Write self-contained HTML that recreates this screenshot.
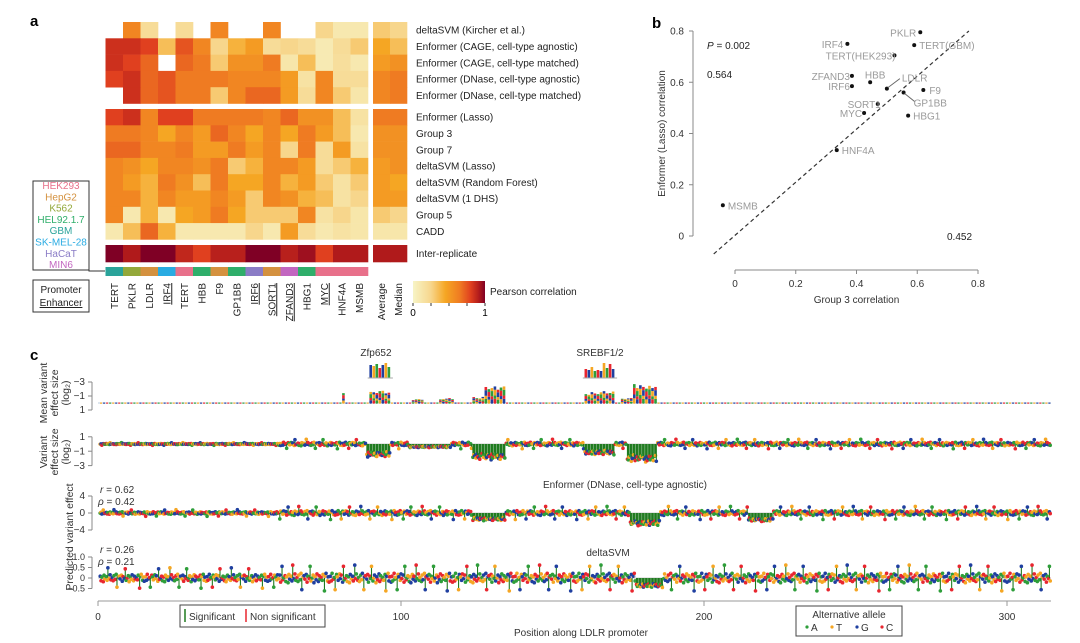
<!DOCTYPE html>
<html><head><meta charset="utf-8">
<style>
html,body{margin:0;padding:0;background:#fff;}
svg{display:block;font-family:"Liberation Sans",sans-serif;}
</style></head>
<body>
<svg id="fig" width="1080" height="643" viewBox="0 0 1080 643" xmlns="http://www.w3.org/2000/svg">
<g id="pa"></g>
<g id="pb"></g>
<g id="pc"></g>
</svg>
<script>
// ---------- DATA: panel a ----------
const genes = ["TERT","PKLR","LDLR","IRF4","TERT","HBB","F9","GP1BB","IRF6","SORT1","ZFAND3","HBG1","MYC","HNF4A","MSMB"];
const underlined = [false,false,false,true,false,false,false,false,true,true,true,false,true,false,false];
const summaryCols = ["Average","Median"];
const rowLabels = ["deltaSVM (Kircher et al.)","Enformer (CAGE, cell-type agnostic)","Enformer (CAGE, cell-type matched)","Enformer (DNase, cell-type agnostic)","Enformer (DNase, cell-type matched)","Enformer (Lasso)","Group 3","Group 7","deltaSVM (Lasso)","deltaSVM (Random Forest)","deltaSVM (1 DHS)","Group 5","CADD","Inter-replicate"];
const hm0 = [null,0.6,0.2,null,0.2,null,0.6,null,null,0.6,null,null,0.25,0.1,0.1,0.3,0.25];
const hm1 = [0.85,0.85,0.8,0.35,0.75,0.6,0.25,0.4,0.5,0.2,0.25,0.2,0.08,0.2,0.3,0.45,0.35];
const hm2 = [0.85,0.8,0.7,null,0.7,0.65,0.3,0.55,0.55,0.65,0.12,0.35,0.08,0.18,0.1,0.5,0.55];
const hm3 = [0.8,0.85,0.7,0.75,0.65,0.65,0.65,0.6,0.6,0.6,0.5,0.15,0.6,0.2,0.2,0.6,0.65];
const hm4 = [null,0.85,0.7,0.75,0.65,0.65,0.3,0.6,0.7,0.7,0.5,0.2,0.6,0.3,0.12,0.6,0.65];
const hm5 = [0.8,0.85,0.6,0.8,0.8,0.65,0.65,0.65,0.65,0.6,0.7,0.55,0.55,0.35,0.15,0.65,0.65];
const hm6 = [0.65,0.65,0.6,0.45,0.6,0.5,0.7,0.6,0.45,0.6,0.45,0.65,0.5,0.35,0.1,0.55,0.55];
const hm7 = [0.7,0.7,0.6,0.6,0.65,0.5,0.5,0.65,0.5,0.6,0.25,0.65,0.2,0.5,0.15,0.55,0.55];
const hm8 = [0.6,0.55,0.45,0.6,0.6,0.55,0.65,0.3,0.4,0.6,0.6,0.5,0.2,0.3,0.4,0.5,0.55];
const hm9 = [0.6,0.5,0.4,0.65,0.55,0.35,0.65,0.45,0.45,0.6,0.4,0.5,0.3,0.15,0.3,0.5,0.45];
const hm10 = [0.6,0.6,0.4,0.6,0.5,0.5,0.6,0.5,0.3,0.6,0.55,0.4,0.35,0.15,0.25,0.5,0.5];
const hm11 = [0.6,0.1,0.4,0.1,0.45,0.5,0.65,0.45,0.3,0.3,0.3,0.6,0.15,0.25,0.12,0.3,0.25];
const hm12 = [0.1,0.35,0.7,0.4,0.1,0.1,0.1,0.1,0.25,0.1,0.5,0.2,0.1,0.15,0.12,0.12,0.12];
const hm13 = [1,0.92,1,1,0.88,0.8,0.9,0.9,1,1,0.9,0.95,0.8,0.92,0.92,0.92,0.92];
const cellLines = ["GBM","K562","HepG2","SK-MEL-28","HEK293","HEL92.1.7","HepG2","HEL92.1.7","HaCaT","HepG2","MIN6","HEL92.1.7","HEK293","HEK293","HEK293"];
const legendLines = ["HEK293","HepG2","K562","HEL92.1.7","GBM","SK-MEL-28","HaCaT","MIN6"];
// ---------- DATA: panel b ----------
const bGenes = ["PKLR","IRF4","TERT(GBM)","TERT(HEK293)","ZFAND3","HBB","IRF6","LDLR","F9","GP1BB","SORT1","MYC","HBG1","HNF4A","MSMB"];
const bGroup3 = [0.61,0.37,0.59,0.525,0.385,0.445,0.385,0.50,0.62,0.555,0.47,0.425,0.57,0.335,-0.04];
const bLasso = [0.795,0.75,0.745,0.705,0.625,0.6,0.585,0.575,0.57,0.56,0.515,0.48,0.47,0.335,0.12];
const bTicks = [0,0.2,0.4,0.6,0.8];
// ---------- DATA: panel c ----------
const cTicks = [0,100,200,300];
const dips2 = [[89,96,-1.8],[103,116,-0.5],[124,134,-2.2],[161,170,-1.5],[175,184,-2.5]];
const dips3 = [[124,134,-1.8],[176,185,-3],[215,222,-2]];
const dips4 = [[178,186,-0.45]];
const logoBlocks = [[81,82,1.6],[90,97,1.8],[104,108,0.6],[113,118,0.7],[124,128,0.9],[128,135,2.6],[161,165,1.6],[165,171,1.8],[173,177,0.8],[177,185,2.7]];
const jitter = [0.3,-0.5,0.8,-0.2,0.1,-0.9,0.6,0.2,-0.4,0.7,-0.1,0.5,-0.7,0.9,-0.3,0.0,0.4,-0.6,0.2,-0.8,0.6,-0.2,0.3,-0.5,1.0,-0.1,0.7,-0.4,0.1,-0.6,0.5,-0.3,0.8,-0.9,0.2,0.4,-0.2,0.6,-0.7,0.3,-0.1,0.9,-0.5,0.0,0.5,-0.8,0.2,-0.3,0.7,-0.6,0.4,-0.2,0.1,-0.4,0.6,-1.0,0.3,0.8,-0.5,0.2,-0.7];

const NS="http://www.w3.org/2000/svg";
function mk(parent,tag,attrs,name,txt){const e=document.createElementNS(NS,tag);for(const k in attrs)e.setAttribute(k,attrs[k]);


if(txt!==undefined)e.textContent=txt;parent.appendChild(e);return e;}
const stops=[[0,[247,244,198]],[0.25,[247,214,140]],[0.45,[245,166,35]],[0.65,[239,123,34]],[0.8,[224,64,31]],[0.92,[176,26,27]],[1,[127,0,37]]];
function cmap(v){for(let i=1;i<stops.length;i++){if(v<=stops[i][0]){const a=stops[i-1],b=stops[i];const t=(v-a[0])/(b[0]-a[0]);return "rgb("+a[1].map((c,j)=>Math.round(c+(b[1][j]-c)*t)).join(",")+")";}}return "rgb(127,0,37)";}
const lineColor={"HEK293":"#e8708a","HepG2":"#d4913f","K562":"#93a83a","HEL92.1.7":"#2fae6a","GBM":"#2aa39a","SK-MEL-28":"#29abe2","HaCaT":"#8a7cc6","MIN6":"#c266c0"};

// ---------- PANEL A ----------
const pa=document.getElementById('pa');
mk(pa,'text',{x:30,y:26,'font-size':15,'font-weight':'bold'},'panel-a-letter','a');
const hmRows=[hm0,hm1,hm2,hm3,hm4,hm5,hm6,hm7,hm8,hm9,hm10,hm11,hm12,hm13];
const cw=17.5, x0=105.5, xs0=373, csw=17;
function rowY(r){ if(r<5) return 22+r*16.3; if(r<13) return 109+(r-5)*16.3; return 245; }
function colX(c){ return c<15? x0+c*cw : xs0+(c-15)*csw; }
hmRows.forEach((row,r)=>{
  const h = r===13?17:16.3;
  row.forEach((v,c)=>{
    if(v===null) return;
    mk(pa,'rect',{x:colX(c),y:rowY(r),width:(c<15?cw:csw)+0.3,height:h+0.3,fill:cmap(v)},'heatmap-cell');
  });
  mk(pa,'text',{x:416,y:rowY(r)+h/2+3.5,'font-size':10,fill:'#222'},'row-label',rowLabels[r]);
});
cellLines.forEach((cl,c)=>{
  mk(pa,'rect',{x:colX(c),y:267,width:cw+0.3,height:9,fill:lineColor[cl]},'cell-line-color');
});
genes.forEach((g,c)=>{
  const cx=colX(c)+cw/2+3.5;
  mk(pa,'text',{x:cx,y:283,'font-size':10,fill:'#222','text-anchor':'end',transform:`rotate(-90 ${cx} 283)`,'text-decoration':underlined[c]?'underline':'none'},'column-label',g);
});
summaryCols.forEach((g,i)=>{
  const cx=xs0+i*csw+csw/2+3.5;
  mk(pa,'text',{x:cx,y:283,'font-size':10,fill:'#222','text-anchor':'end',transform:`rotate(-90 ${cx} 283)`},'summary-label',g);
});
mk(pa,'rect',{x:33,y:181,width:56,height:89,fill:'none',stroke:'#333','stroke-width':1},'cell-line-legend-box');
mk(pa,'polyline',{points:'89,270 89,271 105,271',fill:'none',stroke:'#333','stroke-width':1},'legend-connector');
legendLines.forEach((l,i)=>{
  mk(pa,'text',{x:61,y:189+i*11.3,'font-size':10,'text-anchor':'middle',fill:lineColor[l]},'legend-entry',l);
});
mk(pa,'rect',{x:33,y:280,width:56,height:32,fill:'none',stroke:'#333','stroke-width':1},'promoter-enhancer-box');
mk(pa,'text',{x:61,y:293,'font-size':10,'text-anchor':'middle',fill:'#222'},'promoter-label','Promoter');
mk(pa,'text',{x:61,y:306,'font-size':10,'text-anchor':'middle',fill:'#222','text-decoration':'underline'},'enhancer-label','Enhancer');
const defs=mk(document.getElementById('fig'),'defs',{},'defs');
const lg=mk(defs,'linearGradient',{id:'cg',x1:0,x2:1,y1:0,y2:0},'colorbar-gradient');
for(let i=0;i<=20;i++) mk(lg,'stop',{offset:i/20,'stop-color':cmap(i/20)},'gradient-stop');
mk(pa,'rect',{x:413,y:281,width:72,height:22,fill:'url(#cg)'},'colorbar');
for(let i=0;i<=4;i++) mk(pa,'line',{x1:413+i*18,x2:413+i*18,y1:303,y2:306,stroke:'#333'},'colorbar-tick');
mk(pa,'text',{x:413,y:316,'font-size':10,'text-anchor':'middle'},'colorbar-min','0');
mk(pa,'text',{x:485,y:316,'font-size':10,'text-anchor':'middle'},'colorbar-max','1');
mk(pa,'text',{x:490,y:295,'font-size':10,fill:'#222'},'colorbar-title','Pearson correlation');

// ---------- PANEL B ----------
const pb=document.getElementById('pb');
mk(pb,'text',{x:652,y:28,'font-size':15,'font-weight':'bold'},'panel-b-letter','b');
const bx=v=>735+v*303.75, by=v=>236-v*256.25;
mk(pb,'line',{x1:693,x2:693,y1:by(0),y2:by(0.8),stroke:'#888'},'y-axis-line');
bTicks.forEach(t=>{
  mk(pb,'line',{x1:689,x2:693,y1:by(t),y2:by(t),stroke:'#888'},'y-tick');
  mk(pb,'text',{x:684,y:by(t)+3.5,'font-size':10,'text-anchor':'end',fill:'#333'},'y-tick-label',t===0?'0':t.toFixed(1));
  mk(pb,'line',{x1:bx(t),x2:bx(t),y1:270,y2:274,stroke:'#888'},'x-tick');
  mk(pb,'text',{x:bx(t),y:287,'font-size':10,'text-anchor':'middle',fill:'#333'},'x-tick-label',t===0?'0':t.toFixed(1));
});
mk(pb,'line',{x1:bx(0),x2:bx(0.8),y1:270,y2:270,stroke:'#888'},'x-axis-line');
mk(pb,'text',{x:bx(0.4),y:303,'font-size':10,'text-anchor':'middle',fill:'#333'},'x-axis-title','Group 3 correlation');
mk(pb,'text',{x:665,y:by(0.4),'font-size':10,'text-anchor':'middle',fill:'#333',transform:`rotate(-90 665 ${by(0.4)})`},'y-axis-title','Enformer (Lasso) correlation');
mk(pb,'line',{x1:bx(-0.07),y1:by(-0.07),x2:bx(0.77),y2:by(0.8),stroke:'#333','stroke-dasharray':'4,3','stroke-width':1.2},'identity-line');
const pv=mk(pb,'text',{x:707,y:49,'font-size':10,fill:'#222'},'p-value','');
pv.innerHTML='<tspan font-style="italic">P</tspan> = 0.002';
mk(pb,'text',{x:707,y:78,'font-size':10,fill:'#222'},'upper-count','0.564');
mk(pb,'text',{x:947,y:240,'font-size':10,fill:'#222'},'lower-count','0.452');
const labOff={"PKLR":[-4,4,'end'],"IRF4":[-4,4,'end'],"TERT(GBM)":[5,4,'start'],"TERT(HEK293)":[1,4,'end'],"ZFAND3":[-2,4,'end'],"HBB":[5,-4,'middle'],"IRF6":[-2,4,'end'],"LDLR":[15,-7,'start'],"F9":[6,4,'start'],"GP1BB":[10,14,'start'],"SORT1":[3,4,'end'],"MYC":[-2,4,'end'],"HBG1":[5,4,'start'],"HNF4A":[5,4,'start'],"MSMB":[5,4,'start']};
bGenes.forEach((g,i)=>{
  const x=bx(bGroup3[i]), y=by(bLasso[i]);
  mk(pb,'circle',{cx:x,cy:y,r:2,fill:'#111'},'point-'+g.toLowerCase());
  const o=labOff[g];
  if(g==="LDLR") mk(pb,'line',{x1:x+1,y1:y-1,x2:x+13,y2:y-10,stroke:'#666'},'leader-line');
  if(g==="GP1BB") mk(pb,'line',{x1:x+1,y1:y+1,x2:x+11,y2:y+9,stroke:'#666'},'leader-line');
  mk(pb,'text',{x:x+o[0],y:y+o[1],'font-size':10,fill:'#9a9a9a','text-anchor':o[2]},'point-label',g);
});

// ---------- PANEL C ----------
const pc=document.getElementById('pc');
mk(pc,'text',{x:30,y:360,'font-size':15,'font-weight':'bold'},'panel-c-letter','c');
const cx=p=>98+p*3.03;
const alleleCol=["#2e9e3a","#f5a623","#1f3fa0","#e8262f"];
mk(pc,'line',{x1:98,x2:1051,y1:601,y2:601,stroke:'#999'},'x-axis-line');
cTicks.forEach(t=>{
  mk(pc,'line',{x1:cx(t),x2:cx(t),y1:601,y2:606,stroke:'#999'},'x-tick');
  mk(pc,'text',{x:cx(t),y:620,'font-size':10,'text-anchor':'middle',fill:'#333'},'x-tick-label',t);
});
mk(pc,'text',{x:581,y:636,'font-size':10,'text-anchor':'middle',fill:'#333'},'x-axis-title','Position along LDLR promoter');
function dipVal(dips,p){for(const d of dips){if(p>=d[0]&&p<=d[1])return d[2];}return 0;}
function yAxis(x,ticks,labels,yfn,name,fs){
  mk(pc,'line',{x1:x,x2:x,y1:yfn(ticks[0]),y2:yfn(ticks[ticks.length-1]),stroke:'#888'},name+'-axis');
  ticks.forEach((t,i)=>{
    mk(pc,'line',{x1:x-4,x2:x,y1:yfn(t),y2:yfn(t),stroke:'#888'},name+'-tick');
    mk(pc,'text',{x:x-7,y:yfn(t)+3.2,'font-size':fs||10,'text-anchor':'end',fill:'#333'},name+'-tick-label',labels[i]);
  });
}
const y1=v=>403+v*7;
const y2=v=>444-v*7.2;
const y3=v=>513-v*4.25;
const y4=v=>578-v*21;
yAxis(92,[-3,-1,1],["\u22123","\u22121","1"],y1,'track1');
yAxis(92,[1,-1,-3],["1","\u22121","\u22123"],y2,'track2');
yAxis(92,[4,0,-4],["4","0","\u22124"],y3,'track3');
yAxis(92,[1,0.5,0,-0.5],["1.0","0.5","0","\u22120.5"],y4,'track4',9);
function rotLabel(x,y,lines,name){
  lines.forEach((l,i)=>{const xx=x+i*11;mk(pc,'text',{x:xx,y:y,'font-size':10.5,'text-anchor':'middle',fill:'#333',transform:`rotate(-90 ${xx} ${y})`},name,l);});
}
rotLabel(47,393,["Mean variant","effect size","(log\u2082)"],'track1-title');
rotLabel(47,452,["Variant","effect size","(log\u2082)"],'track2-title');
rotLabel(73,537,["Predicted variant effect"],'predicted-title');
function rho(x,y,lab,val){const t=mk(pc,'text',{x:x,y:y,'font-size':10,fill:'#333'},'stat-label','');t.innerHTML='<tspan font-style="italic">'+lab+'</tspan> = '+val;}
rho(100,493,'r','0.62');rho(98,505,'\u03c1','0.42');rho(100,553,'r','0.26');rho(98,565,'\u03c1','0.21');
mk(pc,'text',{x:625,y:488,'font-size':10,'text-anchor':'middle',fill:'#333'},'track3-title','Enformer (DNase, cell-type agnostic)');
mk(pc,'text',{x:608,y:556,'font-size':10,'text-anchor':'middle',fill:'#333'},'track4-title','deltaSVM');
mk(pc,'text',{x:376,y:356,'font-size':10,'text-anchor':'middle',fill:'#333'},'motif-label','Zfp652');
mk(pc,'text',{x:600,y:356,'font-size':10,'text-anchor':'middle',fill:'#333'},'motif-label','SREBF1/2');
mk(pc,'line',{x1:98,x2:1051,y1:403,y2:403,stroke:'#bcd',"stroke-width":1},'track1-baseline');
for(let p=1;p<=314;p++){
  mk(pc,'rect',{x:cx(p)-1,y:402.5,width:2,height:1.2,fill:alleleCol[p%4]},'logo-mark');
}
logoBlocks.forEach(b=>{
  for(let p=b[0];p<b[1];p++){
    const h=b[2]*7*(0.7+0.3*Math.abs(jitter[p%jitter.length]));
    const parts=[0.25,0.2,0.35,0.2];let yy=403;
    parts.forEach((f,k)=>{const hh=h*f;yy-=hh;mk(pc,'rect',{x:cx(p)-1.3,y:yy,width:2.6,height:hh,fill:alleleCol[(p+k)%4]},'logo-letter');});
  }
});
[[90,97],[161,171]].forEach(m=>{
  for(let p=m[0];p<m[1];p++){
    const h=6+10*Math.abs(jitter[(p*3)%jitter.length]);
    mk(pc,'rect',{x:cx(p)-1.3,y:378-h,width:2.6,height:h,fill:alleleCol[(p*7)%4]},'motif-letter');
  }
  mk(pc,'line',{x1:cx(m[0])-3,x2:cx(m[1])+1,y1:378,y2:378,stroke:'#aaa'},'motif-baseline');
});
function lolli(dips,yfn,amp,ampEarly,off,name){
  mk(pc,'line',{x1:98,x2:1051,y1:yfn(0),y2:yfn(0),stroke:'#ccc'},name+'-baseline');
  for(let p=1;p<=314;p++){
    const d=dipVal(dips,p);
    for(let a=0;a<3;a++){
      const j=jitter[(p*3+a+off)%jitter.length];
      const am=p<60?ampEarly:amp;
      let v=d!==0? d*(0.6+0.4*Math.abs(j)) : j*am;
      const sig=d!==0||Math.abs(j)>0.85;
      if(sig && d===0) v=j*am*2.2;
      const x=cx(p)+(a-1)*0.8;
      mk(pc,'line',{x1:x,x2:x,y1:yfn(0),y2:yfn(v),stroke:sig?'#1f7a1f':'#d9a0a0','stroke-width':sig?1.1:0.6},name+'-stem');
      mk(pc,'circle',{cx:x,cy:yfn(v),r:1.8,fill:alleleCol[(p+a+off)%4]},name+'-point');
    }
  }
}
lolli(dips2,y2,0.3,0.08,0,'track2');
lolli(dips3,y3,0.7,0.35,7,'track3');
lolli(dips4,y4,0.28,0.22,13,'track4');
mk(pc,'rect',{x:180,y:605,width:145,height:22,fill:'#fff',stroke:'#444'},'significance-legend-box');
mk(pc,'line',{x1:185,x2:185,y1:609,y2:622,stroke:'#1f7a1f','stroke-width':1.5},'significant-swatch');
mk(pc,'text',{x:189,y:620,'font-size':10,fill:'#333'},'significant-label','Significant');
mk(pc,'line',{x1:246,x2:246,y1:609,y2:622,stroke:'#e8262f','stroke-width':1.5},'nonsignificant-swatch');
mk(pc,'text',{x:250,y:620,'font-size':10,fill:'#333'},'nonsignificant-label','Non significant');
mk(pc,'rect',{x:796,y:606,width:106,height:30,fill:'#fff',stroke:'#444'},'allele-legend-box');
mk(pc,'text',{x:849,y:618,'font-size':10,'text-anchor':'middle',fill:'#333'},'allele-legend-title','Alternative allele');
["A","T","G","C"].forEach((l,i)=>{
  mk(pc,'circle',{cx:807+i*25,cy:627,r:1.6,fill:alleleCol[i]},'allele-swatch');
  mk(pc,'text',{x:811+i*25,y:631,'font-size':10,fill:'#333'},'allele-label',l);
});
</script>
</body></html>
